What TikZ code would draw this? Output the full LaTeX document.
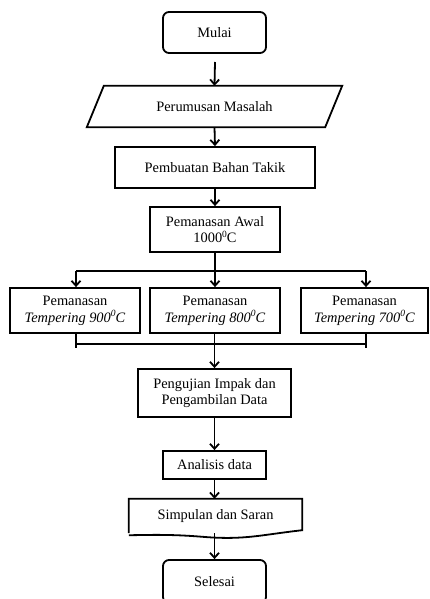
\documentclass[tikz,border=0pt]{standalone}
\usepackage{fontspec}
\setmainfont{Liberation Serif}
\usetikzlibrary{arrows.meta,calc}
\newcommand{\degsup}{\raisebox{0.8ex}{\fontsize{9.5}{9.5}\selectfont 0}}
\tikzset{
  base/.style={draw, line width=1.8pt, inner sep=2pt, align=center, font=\fontsize{14.4}{16.8}\selectfont},
  term/.style={base, rounded corners=6pt},
  proc/.style={base},
  plain/.style={inner sep=2pt, align=center, font=\fontsize{14.4}{16.8}\selectfont},
  ln/.style={line width=1.8pt},
  arr/.style={line width=1.8pt, -{Straight Barb[length=5pt,width=9pt,line width=1.8pt]}},
}
\begin{document}
\begin{tikzpicture}[x=1pt,y=-1pt]
\useasboundingbox (0,0) rectangle (429,599);
\node[term, minimum width=103pt, minimum height=41pt] (mulai) at (214.5,32.5) {Mulai};
\coordinate (mstart) at (215,62);
\node[plain, minimum width=238pt, minimum height=41pt] (per) at (214.5,106.5) {Perumusan Masalah};
\draw[ln] ([xshift=8.5pt]per.north west) -- ([xshift=8.5pt]per.north east) -- ([xshift=-8.5pt]per.south east) -- ([xshift=-8.5pt]per.south west) -- cycle;
\node[proc, minimum width=200pt, minimum height=41pt] (pemb) at (215,167.5) {Pembuatan Bahan Takik};
\node[proc, minimum width=130pt, minimum height=45pt] (awal) at (215,229.5) {Pemanasan Awal\\1000\degsup C};
\node[proc, minimum width=130pt, minimum height=45pt] (t9) at (75,310.5) {Pemanasan\\\textit{Tempering 900\degsup C}};
\node[proc, minimum width=130pt, minimum height=45pt] (t8) at (215,310.5) {Pemanasan\\\textit{Tempering 800\degsup C}};
\node[proc, minimum width=127pt, minimum height=45pt] (t7) at (364.5,310.5) {Pemanasan\\\textit{Tempering 700\degsup C}};
\node[proc, minimum width=153pt, minimum height=48pt] (uji) at (214.5,393) {Pengujian Impak dan\\Pengambilan Data};
\node[proc, minimum width=103pt, minimum height=28pt] (ana) at (214.5,465) {Analisis data};
\node[plain, minimum width=173pt, minimum height=34pt] (doc) at (215.5,516) {Simpulan dan Saran};
\draw[ln] (doc.south west) -- (doc.north west) -- (doc.north east) -- ([yshift=3pt]doc.south east)
  .. controls (260,535) and (245,540) .. (205,537) .. controls (170,534) and (150,535) .. ([yshift=-2pt]doc.south west);
\node[term, minimum width=103pt, minimum height=43pt] (sel) at (214.5,581.5) {Selesai};
% connectors
\draw[arr] (mstart) -- (per.north);
\draw[arr] (per.south) -- (pemb.north);
\draw[arr] (pemb.south) -- (awal.north);
\coordinate (sl) at (76,271);
\coordinate (sr) at (366,271);
\coordinate (sm) at (215,271);
\draw[ln] (awal.south) -- (sm);
\draw[ln] (sl) -- (sr);
\draw[arr] (sl) -- (sl |- t9.north);
\draw[arr] (sm) -- (t8.north);
\draw[arr] (sr) -- (sr |- t7.north);
\coordinate (jl) at (76,344);
\coordinate (jr) at (366,344);
\draw[ln] (t9.south -| jl) -- ([yshift=-4pt]jl);
\draw[ln] (t7.south -| jr) -- ([yshift=-4pt]jr);
\draw[ln] (jl) -- (jr);
\draw[arr] (t8.south -| uji.north) -- (uji.north);
\draw[arr] (uji.south) -- (ana.north);
\draw[arr] (ana.south) -- (ana.south |- doc.north);
\draw[arr] (doc.south -| sel.north) -- (sel.north);
\end{tikzpicture}
\end{document}
